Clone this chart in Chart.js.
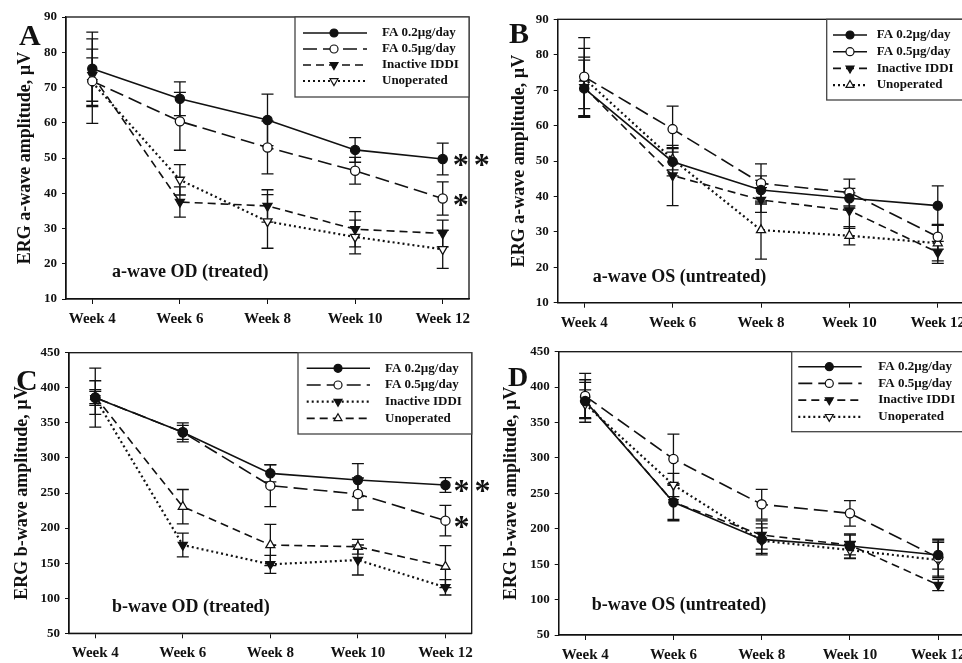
<!DOCTYPE html>
<html>
<head>
<meta charset="utf-8">
<script src="https://cdn.jsdelivr.net/npm/chart.js@4/dist/chart.umd.min.js"></script>
<style>
  html, body { margin: 0; padding: 0; background: #fff; width: 962px; height: 663px; overflow: hidden; }
  .panel { position: absolute; }
</style>
</head>
<body>
<canvas id="panelA" class="panel" width="495" height="330" style="left:0;top:0"></canvas>
<canvas id="panelB" class="panel" width="495" height="330" style="left:480px;top:0"></canvas>
<canvas id="panelC" class="panel" width="495" height="333" style="left:0;top:330px"></canvas>
<canvas id="panelD" class="panel" width="495" height="333" style="left:480px;top:330px"></canvas>
<script>
// x positions and labels
const weeks = [4, 6, 8, 10, 12]
const weekLabels = ["Week 4", "Week 6", "Week 8", "Week 10", "Week 12"]
const groupNames = ["FA 0.2µg/day", "FA 0.5µg/day", "Inactive IDDI", "Unoperated"]
const aWaveTicks = [10, 20, 30, 40, 50, 60, 70, 80, 90]
const bWaveTicks = [50, 100, 150, 200, 250, 300, 350, 400, 450]

// A: a-wave OD (treated)
const aOdFa02 = [75.3, 66.8, 60.8, 52.3, 49.7]
const aOdFa02Err = [10.4, 4.8, 7.3, 3.5, 4.5]
const aOdFa05 = [71.8, 60.4, 53.0, 46.4, 38.5]
const aOdFa05Err = [12, 8.2, 7.5, 3.8, 4.7]
const aOdInactive = [73.5, 37.5, 36.4, 29.8, 28.6]
const aOdInactiveErr = [7.4, 4.3, 4.6, 5, 3.8]
const aOdUnop = [71.5, 43.8, 32.0, 27.6, 24.1]
const aOdUnopErr = [6.9, 4.3, 7.6, 4.8, 5.4]

// B: a-wave OS (untreated)
const aOsFa02 = [70.5, 49.8, 41.8, 39.5, 37.4]
const aOsFa02Err = [8, 4, 4, 2.8, 5.6]
const aOsFa05 = [73.8, 59.0, 43.7, 41.1, 28.6]
const aOsFa05Err = [11, 6.5, 5.5, 3.8, 3.5]
const aOsInactive = [70.8, 45.9, 39.0, 36.0, 24.2]
const aOsInactiveErr = [8.5, 8.5, 3.5, 5, 3.1]
const aOsUnop = [73.3, 50.5, 30.5, 28.9, 26.8]
const aOsUnopErr = [8.5, 3, 8.2, 2.6, 5]

// C: b-wave OD (treated)
const bOdFa02 = [385.9, 336.5, 278, 268.5, 261.4]
const bOdFa02Err = [42, 13.5, 12, 23.5, 10.5]
const bOdFa05 = [386, 336.5, 260.5, 248.6, 210.6]
const bOdFa05Err = [24, 10, 30, 22.8, 21.8]
const bOdInactive = [385, 175.9, 148.3, 154.5, 115.6]
const bOdInactiveErr = [10, 17, 12.8, 21.4, 11]
const bOdUnop = [387.3, 230.5, 175.9, 173.5, 145]
const bOdUnopErr = [10, 24.5, 29.4, 10.5, 30]

// D: b-wave OS (untreated)
const bOsFa02 = [380.4, 237.3, 185, 175.6, 163]
const bOsFa02Err = [30, 26, 22, 17, 20]
const bOsFa05 = [387.4, 298.5, 234.5, 221.8, 159.2]
const bOsFa05Err = [32, 35, 21, 18, 26]
const bOsInactive = [381.8, 237.3, 191.2, 177, 120.6]
const bOsInactiveErr = [25, 24, 20, 14, 8]
const bOsUnop = [376, 261.8, 183.2, 170, 155.9]
const bOsUnopErr = [20, 16.5, 18, 12, 25]

const INK = "#111"
const SERIF = '"Liberation Serif", "Times New Roman", serif'
Chart.defaults.font.family = SERIF
Chart.defaults.color = INK

const DASH = { solid: [], long: [14, 6], mid: [8, 5], dot: [2, 3] }
const MARK = {
  dot:      { style: "circle",   fill: INK,    rot: 0 },
  ring:     { style: "circle",   fill: "#fff", rot: 0 },
  triDown:  { style: "triangle", fill: INK,    rot: 180 },
  triDownO: { style: "triangle", fill: "#fff", rot: 180 },
  triUpO:   { style: "triangle", fill: "#fff", rot: 0 }
}

function drawMarker(ctx, m, x, y, r) {
  ctx.beginPath()
  if (m.style === "circle") {
    ctx.arc(x, y, r, 0, Math.PI * 2)
  } else {
    let rad = m.rot * Math.PI / 180
    for (let k = 0; k < 3; k++) {
      const px = x + Math.sin(rad) * r, py = y - Math.cos(rad) * r
      k ? ctx.lineTo(px, py) : ctx.moveTo(px, py)
      rad += 2 * Math.PI / 3
    }
    ctx.closePath()
  }
  ctx.fillStyle = m.fill
  ctx.fill()
  ctx.stroke()
}

// error bars, frame, boxed legend, notes
function decoPlugin(p) {
  return {
    id: "deco",
    beforeDatasetsDraw(chart) {
      const ctx = chart.ctx, ys = chart.scales.y
      ctx.save()
      ctx.strokeStyle = INK
      ctx.lineWidth = 1.3
      chart.data.datasets.forEach((ds, i) => {
        const meta = chart.getDatasetMeta(i)
        ds.errors.forEach((e, j) => {
          const x = meta.data[j].x, v = ds.data[j].y
          const t = ys.getPixelForValue(v + e), b = ys.getPixelForValue(v - e)
          ctx.beginPath()
          ctx.moveTo(x, t); ctx.lineTo(x, b)
          ctx.moveTo(x - 6, t); ctx.lineTo(x + 6, t)
          ctx.moveTo(x - 6, b); ctx.lineTo(x + 6, b)
          ctx.stroke()
        })
      })
      ctx.restore()
    },
    afterDraw(chart) {
      const { ctx, chartArea: a } = chart
      ctx.save()
      ctx.strokeStyle = INK
      ctx.lineWidth = 1.3
      ctx.strokeRect(a.left, a.top, a.right - a.left, a.bottom - a.top)

      // legend box
      const L = p.legend
      const bx = a.right - L.w, by = a.top
      ctx.fillStyle = "#fff"
      ctx.fillRect(bx, by, L.w, L.h)
      ctx.strokeStyle = "#444"
      ctx.strokeRect(bx, by, L.w, L.h)
      chart.data.datasets.forEach((ds, i) => {
        const y = by + L.row0 + i * L.gap
        ctx.strokeStyle = INK
        ctx.lineWidth = ds.borderWidth
        ctx.setLineDash(ds.borderDash)
        ctx.beginPath()
        ctx.moveTo(bx + L.l0, y); ctx.lineTo(bx + L.l1, y)
        ctx.stroke()
        ctx.setLineDash([])
        ctx.lineWidth = 1.2
        drawMarker(ctx, p.marks[i], bx + L.m, y, p.marks[i].style === "circle" ? 4 : 4.6)
        ctx.fillStyle = INK
        ctx.font = "bold 13px " + SERIF
        ctx.textBaseline = "middle"
        ctx.textAlign = "left"
        ctx.fillText(ds.label, bx + L.t, y)
      })

      // panel note and letter
      ctx.fillStyle = INK
      ctx.font = "bold 18px " + SERIF
      ctx.textBaseline = "middle"
      ctx.fillText(p.note, a.left + p.noteDx, a.bottom - p.noteDy)
      ctx.font = "bold " + p.letter.size + "px " + SERIF
      ctx.textBaseline = "alphabetic"
      ctx.fillText(p.letter.text, p.letter.x, p.letter.y)

      // significance stars next to last points
      const xs = chart.scales.x, ys = chart.scales.y
      ctx.font = "bold 32px " + SERIF
      ;(p.stars || []).forEach(s => {
        const ds = chart.data.datasets[s.series]
        const last = ds.data[ds.data.length - 1]
        const x0 = xs.getPixelForValue(last.x) + s.dx
        const y0 = ys.getPixelForValue(last.y) + 16
        for (let k = 0; k < s.count; k++) ctx.fillText("*", x0 + k * 21, y0)
      })
      ctx.restore()
    }
  }
}

function makeChart(id, p) {
  const datasets = p.series.map((vals, i) => ({
    label: groupNames[i],
    data: vals.map((v, j) => ({ x: weeks[j], y: v })),
    errors: p.errors[i],
    borderColor: INK,
    borderWidth: p.dashes[i] === DASH.dot ? 2.2 : 1.6,
    borderDash: p.dashes[i],
    tension: 0,
    pointStyle: p.marks[i].style,
    pointRotation: p.marks[i].rot,
    pointRadius: p.marks[i].style === "circle" ? 4.6 : 5.2,
    pointBackgroundColor: p.marks[i].fill,
    pointBorderColor: INK,
    pointBorderWidth: 1.3
  }))

  new Chart(document.getElementById(id), {
    type: "line",
    data: { datasets },
    options: {
      responsive: false,
      animation: false,
      events: [],
      layout: { padding: { left: 0, top: p.area.top, right: p.area.right, bottom: 0 } },
      plugins: { legend: { display: false }, tooltip: { enabled: false } },
      scales: {
        x: {
          type: "linear",
          min: 3.4,
          max: 12.6,
          afterBuildTicks: s => { s.ticks = weeks.map(v => ({ value: v })) },
          afterFit: s => { s.height = p.area.xHeight },
          grid: { drawOnChartArea: false, tickLength: 5, color: INK },
          border: { color: INK, width: 1.3 },
          ticks: {
            padding: 6,
            maxRotation: 0,
            font: { size: 15, weight: "bold" },
            callback: v => weekLabels[weeks.indexOf(v)]
          }
        },
        y: {
          min: p.yTicks[0],
          max: p.yTicks[p.yTicks.length - 1],
          afterBuildTicks: s => { s.ticks = p.yTicks.map(v => ({ value: v })) },
          afterFit: s => { s.width = p.area.left },
          grid: { drawOnChartArea: false, tickLength: 4, color: INK },
          border: { color: INK, width: 1.3 },
          ticks: { padding: 5, font: { size: 13, weight: "bold" } },
          title: {
            display: true,
            text: p.yTitle,
            font: { size: 18, weight: "bold" },
            padding: { top: p.titlePad, bottom: 0 }
          }
        }
      }
    },
    plugins: [decoPlugin(p)]
  })
}

makeChart("panelA", {
  series: [aOdFa02, aOdFa05, aOdInactive, aOdUnop],
  errors: [aOdFa02Err, aOdFa05Err, aOdInactiveErr, aOdUnopErr],
  dashes: [DASH.solid, DASH.long, DASH.mid, DASH.dot],
  marks: [MARK.dot, MARK.ring, MARK.triDown, MARK.triDownO],
  yTicks: aWaveTicks,
  yTitle: "ERG a-wave amplitude, µV",
  titlePad: 15,
  area: { left: 66, top: 17, right: 26, xHeight: 31 },
  legend: { w: 174, h: 80, row0: 16, gap: 16, l0: 8, l1: 72, m: 39, t: 87 },
  note: "a-wave OD (treated)", noteDx: 46, noteDy: 27,
  letter: { text: "A", x: 19, y: 45, size: 30 },
  stars: [{ series: 0, count: 2, dx: 10 }, { series: 1, count: 1, dx: 10 }]
})

makeChart("panelB", {
  series: [aOsFa02, aOsFa05, aOsInactive, aOsUnop],
  errors: [aOsFa02Err, aOsFa05Err, aOsInactiveErr, aOsUnopErr],
  dashes: [DASH.solid, DASH.long, DASH.mid, DASH.dot],
  marks: [MARK.dot, MARK.ring, MARK.triDown, MARK.triUpO],
  yTicks: aWaveTicks,
  yTitle: "ERG a-wave amplitude, µV",
  titlePad: 29,
  area: { left: 77.7, top: 19.3, right: 10.7, xHeight: 27.3 },
  legend: { w: 137.6, h: 80.7, row0: 15.7, gap: 16.7, l0: 6.3, l1: 40.3, m: 23.3, t: 50 },
  note: "a-wave OS (untreated)", noteDx: 35, noteDy: 25,
  letter: { text: "B", x: 29, y: 43, size: 30 }
})

makeChart("panelC", {
  series: [bOdFa02, bOdFa05, bOdInactive, bOdUnop],
  errors: [bOdFa02Err, bOdFa05Err, bOdInactiveErr, bOdUnopErr],
  dashes: [DASH.solid, DASH.long, DASH.dot, DASH.mid],
  marks: [MARK.dot, MARK.ring, MARK.triDown, MARK.triUpO],
  yTicks: bWaveTicks,
  yTitle: "ERG b-wave amplitude, µV",
  titlePad: 12,
  area: { left: 69, top: 22.7, right: 23.3, xHeight: 29.7 },
  legend: { w: 173.7, h: 81.3, row0: 15.6, gap: 16.7, l0: 8.7, l1: 72, m: 40, t: 87 },
  note: "b-wave OD (treated)", noteDx: 43, noteDy: 26,
  letter: { text: "C", x: 16, y: 60, size: 30 },
  stars: [{ series: 0, count: 2, dx: 8 }, { series: 1, count: 1, dx: 8 }]
})

makeChart("panelD", {
  series: [bOsFa02, bOsFa05, bOsInactive, bOsUnop],
  errors: [bOsFa02Err, bOsFa05Err, bOsInactiveErr, bOsUnopErr],
  dashes: [DASH.solid, DASH.long, DASH.mid, DASH.dot],
  marks: [MARK.dot, MARK.ring, MARK.triDown, MARK.triDownO],
  yTicks: bWaveTicks,
  yTitle: "ERG b-wave amplitude, µV",
  titlePad: 21,
  area: { left: 78.7, top: 21.7, right: 10.3, xHeight: 28 },
  legend: { w: 173, h: 80, row0: 15, gap: 16.7, l0: 6.6, l1: 70, m: 37.6, t: 86.6 },
  note: "b-wave OS (untreated)", noteDx: 33, noteDy: 30,
  letter: { text: "D", x: 28, y: 56, size: 28 }
})
</script>
</body>
</html>
